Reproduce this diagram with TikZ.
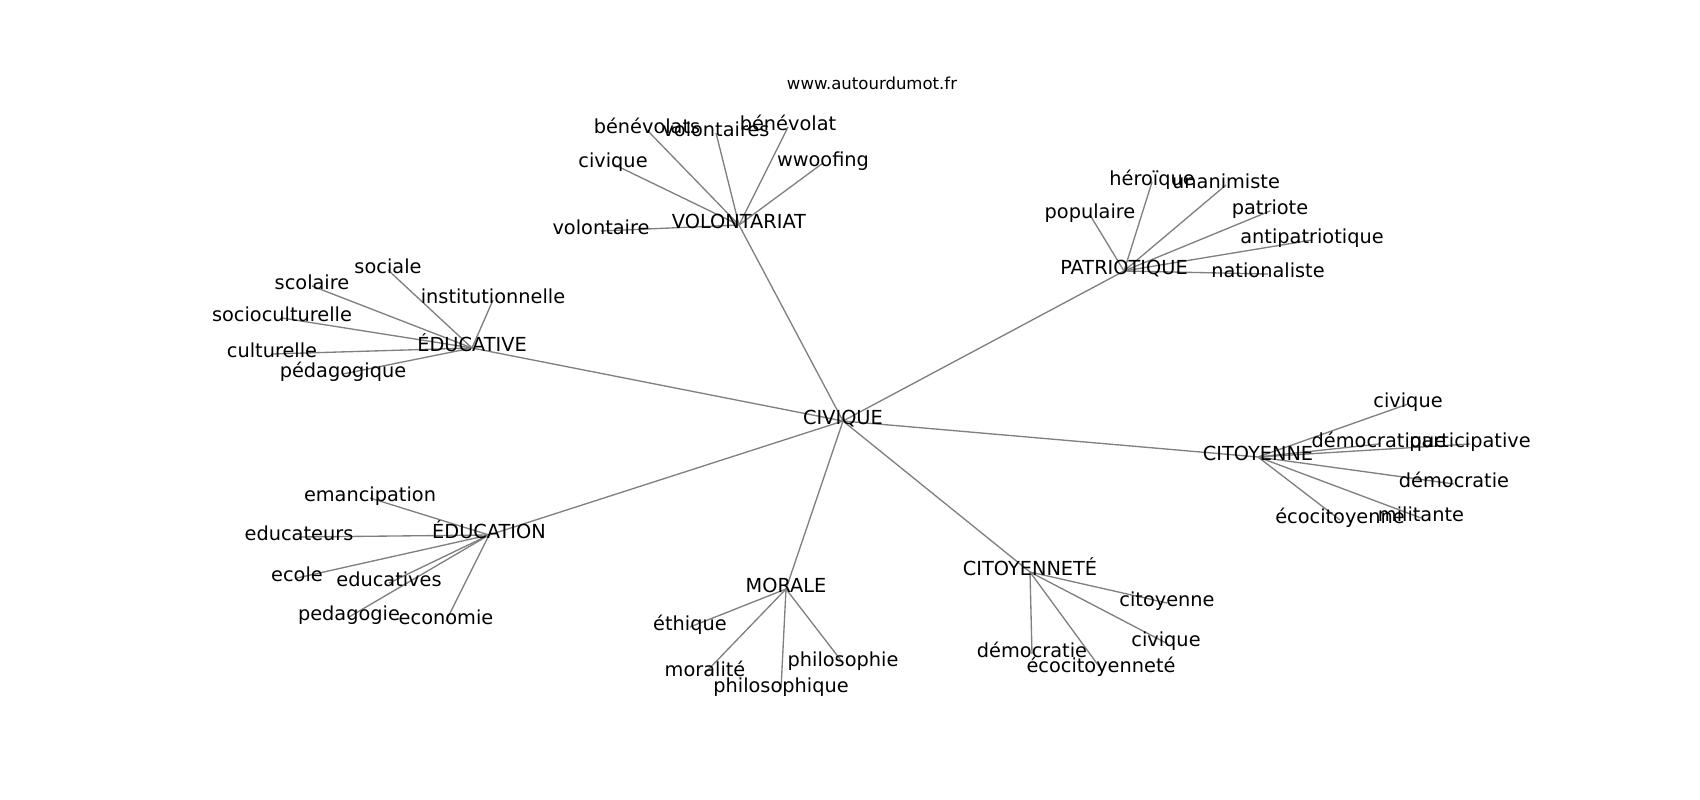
\documentclass[tikz,border=0pt]{standalone}
\usepackage{fontspec}
\setmainfont{DejaVu Sans}
\usetikzlibrary{backgrounds}
\tikzset{
  word/.style={inner sep=0pt, text height=0.76em, text depth=0.24em,
    font=\fontsize{14.5}{17}\selectfont},
  link/.style={draw=gray, line width=1pt},
}
\begin{document}
\begin{tikzpicture}[x=0.75pt,y=-0.75pt]
  % pixel grid, 1700 x 800
  \useasboundingbox (0,0) rectangle (1700,800);
  \begin{scope}[shift={(0,3)}]
  \node[word, font=\fontsize{12.4}{14}\selectfont] (site) at (872,83) {www.autourdumot.fr};
  % hubs
  \node[word] (civ) at (843,418) {CIVIQUE};
  \node[word] (vol) at (739,222) {VOLONTARIAT};
  \node[word] (edf) at (472,345) {ÉDUCATIVE};
  \node[word] (pat) at (1124,268) {PATRIOTIQUE};
  \node[word] (cit) at (1258,454) {CITOYENNE};
  \node[word] (edn) at (489,532) {ÉDUCATION};
  \node[word] (mor) at (786,586) {MORALE};
  \node[word] (cte) at (1030,569) {CITOYENNETÉ};
  % VOLONTARIAT
  \node[word] (vol1) at (647,127) {bénévolats};
  \node[word] (vol2) at (716,130) {volontaires};
  \node[word] (vol3) at (788,124) {bénévolat};
  \node[word] (vol4) at (613,161) {civique};
  \node[word] (vol5) at (823,160) {wwoofing};
  \node[word] (vol6) at (601,228) {volontaire};
  % ÉDUCATIVE
  \node[word] (edf1) at (388,267) {sociale};
  \node[word] (edf2) at (312,283) {scolaire};
  \node[word] (edf3) at (493,297) {institutionnelle};
  \node[word] (edf4) at (282,315) {socioculturelle};
  \node[word] (edf5) at (272,351) {culturelle};
  \node[word] (edf6) at (343,371) {pédagogique};
  % PATRIOTIQUE
  \node[word] (pat1) at (1152,179) {héroïque};
  \node[word] (pat2) at (1226,182) {unanimiste};
  \node[word] (pat3) at (1090,212) {populaire};
  \node[word] (pat4) at (1270,208) {patriote};
  \node[word] (pat5) at (1312,237) {antipatriotique};
  \node[word] (pat6) at (1268,271) {nationaliste};
  % CITOYENNE
  \node[word] (cit1) at (1408,401) {civique};
  \node[word] (cit2) at (1379,441) {démocratique};
  \node[word] (cit3) at (1470,441) {participative};
  \node[word] (cit4) at (1454,481) {démocratie};
  \node[word] (cit5) at (1421,515) {militante};
  \node[word] (cit6) at (1340,517) {écocitoyenne};
  % ÉDUCATION
  \node[word] (edn1) at (370,495) {emancipation};
  \node[word] (edn2) at (299,534) {educateurs};
  \node[word] (edn3) at (297,575) {ecole};
  \node[word] (edn4) at (389,580) {educatives};
  \node[word] (edn5) at (349,614) {pedagogie};
  \node[word] (edn6) at (446,618) {economie};
  % MORALE
  \node[word] (mor1) at (690,624) {éthique};
  \node[word] (mor2) at (705,670) {moralité};
  \node[word] (mor3) at (843,660) {philosophie};
  \node[word] (mor4) at (781,686) {philosophique};
  % CITOYENNETÉ
  \node[word] (cte1) at (1167,600) {citoyenne};
  \node[word] (cte2) at (1166,640) {civique};
  \node[word] (cte3) at (1032,651) {démocratie};
  \node[word] (cte4) at (1101,666) {écocitoyenneté};
  % edges under the words
  \begin{scope}[on background layer]
    \foreach \h in {vol,edf,pat,cit,edn,mor,cte}
      \draw[link] (civ.center) -- (\h.center);
    \foreach \h in {vol,edf,pat,cit,edn}
      \foreach \i in {1,...,6}
        \draw[link] (\h.center) -- (\h\i.center);
    \foreach \h in {mor,cte}
      \foreach \i in {1,...,4}
        \draw[link] (\h.center) -- (\h\i.center);
  \end{scope}
  \end{scope}
\end{tikzpicture}
\end{document}
